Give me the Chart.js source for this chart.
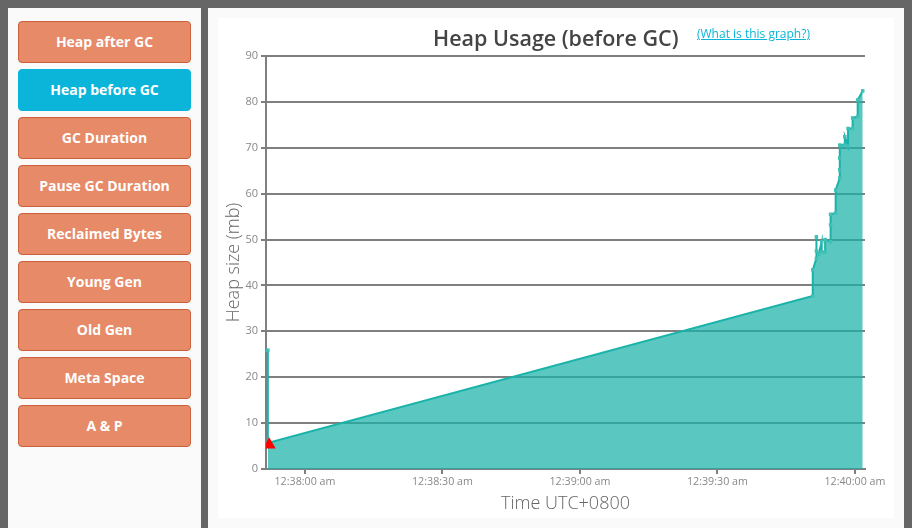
<!DOCTYPE html>
<html>
<head>
<meta charset="utf-8">
<script src="https://cdn.jsdelivr.net/npm/chart.js@4"></script>
<style>
  html, body { margin: 0; padding: 0; }
  body { width: 912px; height: 528px; background: #666; position: relative; overflow: hidden; font-family: "Open Sans", sans-serif; }
  #side { position: absolute; left: 8px; top: 8px; width: 193px; height: 520px; background: #fafafa; }
  #main { position: absolute; left: 208px; top: 8px; width: 696px; height: 520px; background: #fafafa; }
  #card { position: absolute; left: 218px; top: 18px; width: 676px; height: 500px; background: #fff; }
  #buttons { position: absolute; left: 18px; top: 21px; width: 173px; }
  .btn { box-sizing: border-box; height: 42px; margin-bottom: 6px; background: #e68a68; border: 1px solid #c9623c; border-radius: 4px; color: #fff; font-size: 14px; font-weight: 700; line-height: 40px; text-align: center; }
  .btn.active { background: #0bb5da; border-color: #0bb5da; }
  #title { position: absolute; left: 433px; top: 23px; font-size: 21.5px; font-weight: 600; line-height: 29px; color: #444; white-space: nowrap; }
  #what { position: absolute; left: 697px; top: 25px; font-size: 12px; line-height: 17px; color: #0bb5da; text-decoration: underline; white-space: nowrap; }
  #wrap { position: absolute; left: 218px; top: 18px; width: 676px; height: 500px; }
</style>
</head>
<body>
<div id="side"></div>
<div id="main"></div>
<div id="card"></div>
<div id="buttons"></div>
<div id="wrap"><canvas id="heapChart"></canvas></div>
<div id="title">Heap Usage (before GC)</div>
<div id="what">(What is this graph?)</div>
<script>
const menuItems = ['Heap after GC', 'Heap before GC', 'GC Duration', 'Pause GC Duration', 'Reclaimed Bytes', 'Young Gen', 'Old Gen', 'Meta Space', 'A & P'];
const activeItem = 'Heap before GC';

// seconds relative to 12:38:00 am
const gcTimes = [-8.1, -8.1, 110.8, 110.8, 111.6, 111.6, 111.6, 112.1, 112.75, 112.75, 113.5, 113.5, 114.7, 114.7, 114.7, 115.8, 115.8, 116.7, 116.7, 116.7, 116.7, 117.7, 117.8, 118.5, 118.5, 119.5, 119.5, 120.6, 120.6, 121.7];
const heapValues = [25.9, 5.7, 37.7, 43.4, 45.9, 50.6, 47.5, 46.8, 49.5, 47.3, 47.3, 50, 49.5, 53.2, 55.5, 55.8, 60.8, 63.4, 65.2, 67.8, 70.6, 70.6, 72.4, 70.4, 74.2, 74.2, 76.5, 76.8, 80.4, 82.4];

const markerTimes = [-7.8];
const markerValues = [5.3];

const tickSeconds = [0, 30, 60, 90, 120];
const tickLabels = ['12:38:00 am', '12:38:30 am', '12:39:00 am', '12:39:30 am', '12:40:00 am'];

const buttons = document.getElementById('buttons');
menuItems.forEach(name => {
  const el = document.createElement('div');
  el.className = name === activeItem ? 'btn active' : 'btn';
  el.textContent = name;
  buttons.appendChild(el);
});

new Chart(document.getElementById('heapChart').getContext('2d'), {
  type: 'line',
  data: {
    datasets: [{
      label: 'Marker',
      data: markerTimes.map((t, i) => ({ x: t, y: markerValues[i] })),
      showLine: false,
      pointStyle: 'triangle',
      pointRadius: 7.5,
      pointBackgroundColor: '#ff0000',
      pointBorderWidth: 0,
      order: 0
    }, {
      label: 'Heap before GC',
      data: gcTimes.map((t, i) => ({ x: t, y: heapValues[i] })),
      borderColor: '#1ab3a9',
      backgroundColor: 'rgba(26,179,169,0.72)',
      fill: 'origin',
      tension: 0,
      borderWidth: 2,
      pointStyle: 'rect',
      pointRadius: 2.5,
      pointBorderWidth: 0,
      pointBackgroundColor: '#40c0b6',
      order: 1
    }]
  },
  options: {
    responsive: true,
    maintainAspectRatio: false,
    animation: false,
    layout: { padding: { top: 38, right: 29, bottom: 0, left: 0 } },
    plugins: { legend: { display: false }, tooltip: { enabled: false } },
    scales: {
      x: {
        type: 'linear',
        min: -8.5,
        max: 122.2,
        afterBuildTicks: axis => { axis.ticks = tickSeconds.map(v => ({ value: v })); },
        afterFit: axis => { axis.height = 49; },
        grid: { drawOnChartArea: false, color: '#7f7f7f', lineWidth: 2, tickLength: 5 },
        border: { color: '#7f7f7f', width: 2 },
        ticks: {
          autoSkip: false,
          maxRotation: 0,
          color: '#888',
          font: { family: 'Open Sans', size: 10.7 },
          padding: 2,
          callback: v => tickLabels[tickSeconds.indexOf(v)]
        },
        title: { display: true, text: 'Time UTC+0800', color: '#666', font: { family: 'Open Sans', size: 18, weight: '300' }, padding: { top: 0, bottom: 3 } }
      },
      y: {
        min: 0,
        max: 90,
        afterFit: axis => { axis.width = 48; },
        grid: { color: '#7f7f7f', lineWidth: 2, tickLength: 5 },
        border: { color: '#7f7f7f', width: 2 },
        ticks: { stepSize: 10, color: '#888', font: { family: 'Open Sans', size: 11 }, padding: 3 },
        title: { display: true, text: 'Heap size (mb)', color: '#666', font: { family: 'Open Sans', size: 18, weight: '300' }, padding: { top: 5, bottom: 0 } }
      }
    }
  }
});
</script>
</body>
</html>
